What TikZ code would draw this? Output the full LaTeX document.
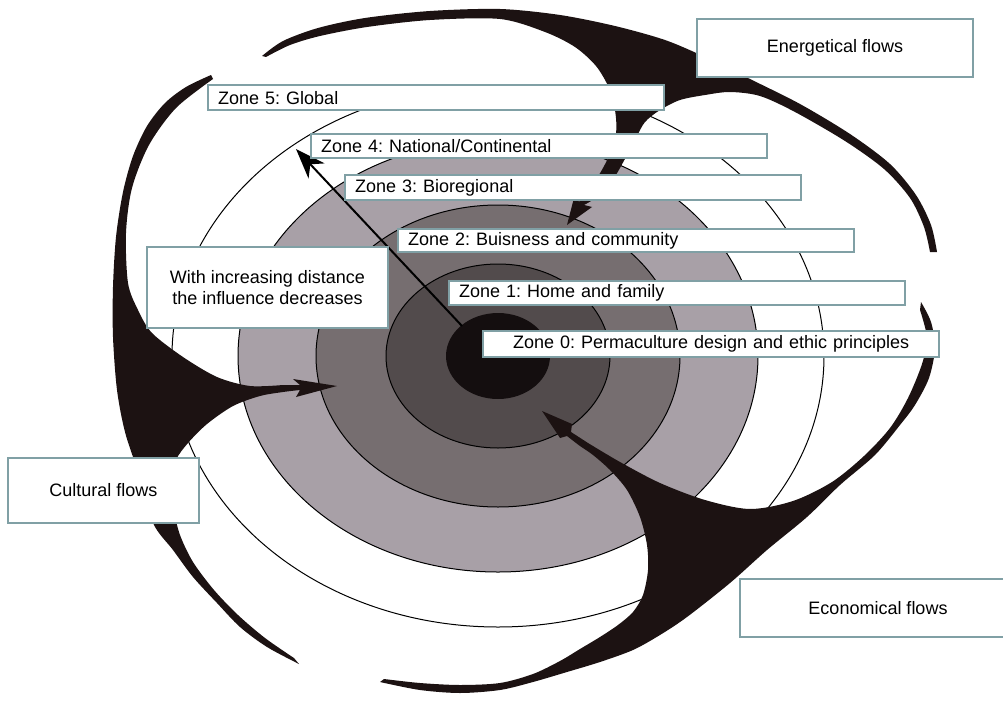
\documentclass[tikz,border=0pt]{standalone}
\usepackage{fontspec}
\setmainfont{Liberation Sans}
\usepackage{tikz}
\usetikzlibrary{arrows.meta,positioning}

\definecolor{boxline}{RGB}{128,160,165}
\definecolor{inkblack}{RGB}{28,18,18}
\definecolor{ringlight}{RGB}{168,160,167}
\definecolor{ringmid}{RGB}{118,110,112}
\definecolor{ringdark}{RGB}{82,75,76}
\definecolor{ringcore}{RGB}{20,14,15}

\newcommand{\labelfont}{\fontsize{18}{21}\selectfont}
\frenchspacing

\begin{document}
\begin{tikzpicture}[
    x=1pt, y=-1pt,
    ring/.style={draw=black, line width=1pt},
    flow/.style={fill=inkblack},
    zonebox/.style={rectangle, draw=boxline, line width=2.4pt, fill=white, anchor=north west,
        text width=436pt, minimum height=25pt, inner xsep=10pt, inner ysep=0pt, align=left, font=\labelfont},
    flowbox/.style={rectangle, draw=boxline, line width=2.4pt, fill=white, align=center, font=\labelfont}
]
    \useasboundingbox (0,0) rectangle (1003,701);

    % Zones, outer to inner
    \filldraw[ring, fill=white] (498,356) ellipse [x radius=326, y radius=271];
    \filldraw[ring, fill=ringlight] (498,356) ellipse [x radius=260, y radius=216];
    \filldraw[ring, fill=ringmid] (498,356) ellipse [x radius=182, y radius=151];
    \filldraw[ring, fill=ringdark] (498,356) ellipse [x radius=112, y radius=92];
    \fill[ringcore] (498,356) ellipse [x radius=52, y radius=43];

    % Cultural flow (left)
    \fill[flow] plot[smooth] coordinates {(211,75) (186,87) (165,103) (147,126) (133,156) (123,192) (116,237)
            (113,287) (113,337) (117,390) (125,432) (138,472) (153,523) (173,550) (193,577) (217,603)
            (240,627) (267,647) (299,664)}
        -- plot[smooth] coordinates {(294,658) (265,638) (238,615) (214,590) (193,562) (180,535) (174,510)
            (172,482) (176,460) (188,443) (207,424) (233,406) (260,396) (283,392) (300,390)}
        -- (296,397) -- (337,386) -- (293,379) -- (300,385)
        -- plot[smooth] coordinates {(283,385) (250,386) (217,377) (183,357) (152,333) (138,310) (128,283)
            (126,233) (132,188) (149,145) (176,108) (213,79)}
        -- cycle;

    % Energetical flow (top)
    \fill[flow] plot[smooth] coordinates {(262,56) (283,41) (318,28) (365,18) (430,11) (500,9) (560,15)
            (615,26) (665,40) (705,57) (750,79) (800,104) (850,134) (890,164) (916,195) (931,225) (937,252)}
        -- plot[smooth] coordinates {(930,252) (924,227) (910,198) (884,169) (845,141) (795,112) (760,96)
            (730,92) (705,95) (680,100) (660,110) (645,122) (636,138) (626,157) (614,178) (600,195) (584,205)}
        -- (592,207) -- (567,225) -- (575,194) -- (579,202)
        -- plot[smooth] coordinates {(588,188) (597,178) (608,158) (616,133) (615,110) (609,88) (596,66)
            (575,47) (545,32) (500,19) (430,20) (367,27) (320,36) (290,45) (266,57)}
        -- cycle;

    % Economical flow (bottom right)
    \fill[flow] plot[smooth] coordinates {(921,302) (931,322) (935,348) (929,378) (915,405) (900,425)
            (875,455) (840,485) (807,517) (767,550) (730,583) (687,617) (660,635) (633,650) (600,662)
            (567,672) (533,682) (500,690) (460,693) (420,690) (380,682)}
        -- plot[smooth] coordinates {(384,679) (420,683) (460,685) (500,683) (533,674) (560,661) (580,649)
            (600,637) (618,625) (633,612) (643,595) (648,570) (647,545) (640,517) (627,490) (610,470)
            (593,455) (580,446) (567,436)}
        -- (560,438) -- (542,411) -- (572,424) -- (571,432)
        -- plot[smooth] coordinates {(588,443) (620,462) (660,483) (705,500) (750,509) (793,501) (832,482)
            (864,456) (890,428) (908,398) (922,364) (927,338) (920,310)}
        -- cycle;

    % Influence arrow
    \coordinate (core) at (462,326);
    \coordinate (rim) at (296,149);
    \draw[line width=2pt, -{Stealth[length=30pt, width=22pt, inset=9pt]}] (core) -- (rim);

    % Zone labels
    \node[zonebox] (zone5) at (207,84) {Zone 5: Global};
    \node[zonebox, minimum height=24pt] (zone4) at (310,133) {Zone 4: National/Continental};
    \node[zonebox] (zone3) at (344,174) {Zone 3: Bioregional};
    \node[zonebox, minimum height=23pt] (zone2) at (397,228) {Zone 2: Buisness and community};
    \node[zonebox, minimum height=24pt] (zone1) at (448,280) {Zone 1: Home and family};
    \node[zonebox, minimum height=26pt, align=center] (zone0) at (482,330) {Zone 0: Permaculture design and ethic principles};

    % Flow labels
    \node[flowbox, minimum width=276pt, minimum height=58pt] (energy) at (835,48) {Energetical flows};
    \node[flowbox, minimum width=191pt, minimum height=65pt] (culture) at (103.5,490.5) {Cultural flows};
    \node[flowbox, minimum width=276pt, minimum height=58pt] (economy) at (878,608) {Economical flows};
    \node[flowbox, minimum width=241pt, minimum height=81pt] (influence) at (267.5,287.5)
        {With increasing distance\\the influence decreases};
\end{tikzpicture}
\end{document}
